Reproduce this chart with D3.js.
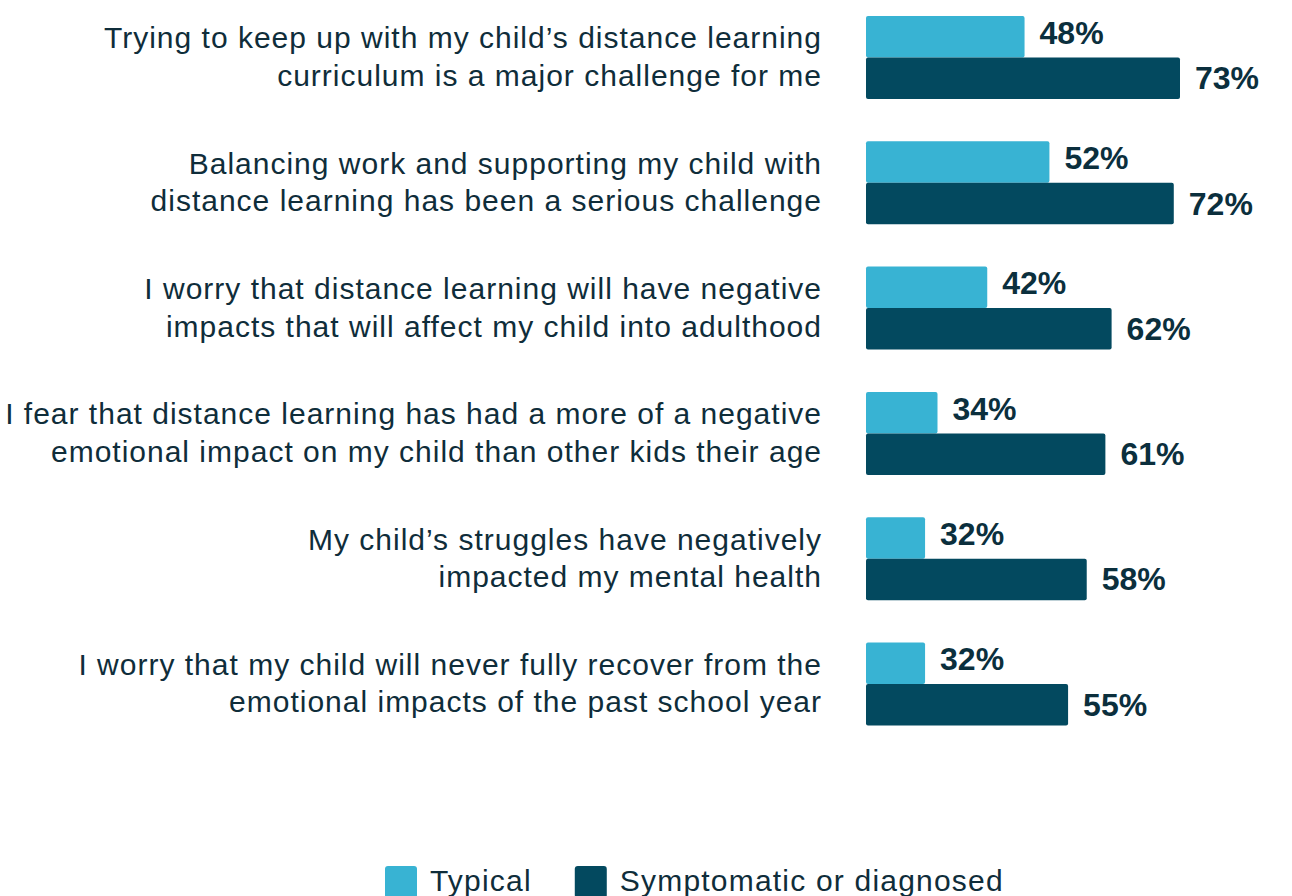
<!DOCTYPE html>
<html>
<head>
<meta charset="utf-8">
<script src="https://cdn.jsdelivr.net/npm/d3@7"></script>
<style>
  body { margin: 0; background: #fff; }
  svg { display: block; font-family: "Liberation Sans", Arial, sans-serif; }
</style>
</head>
<body>
<div id="chart"></div>
<script>

// statements, each split over two lines as in the original
const statements = [
    ["Trying to keep up with my child\u2019s distance learning", "curriculum is a major challenge for me"],
    ["Balancing work and supporting my child with", "distance learning has been a serious challenge"],
    ["I worry that distance learning will have negative", "impacts that will affect my child into adulthood"],
    ["I fear that distance learning has had a more of a negative", "emotional impact on my child than other kids their age"],
    ["My child\u2019s struggles have negatively", "impacted my mental health"],
    ["I worry that my child will never fully recover from the", "emotional impacts of the past school year"]
];

const seriesNames = ["Typical", "Symptomatic or diagnosed"];
const typicalValues = [48, 52, 42, 34, 32, 32];
const symptomaticValues = [73, 72, 62, 61, 58, 55];

const colors = {"Typical": "#38b3d3", "Symptomatic or diagnosed": "#03495f"};

let width = 1292, height = 896;

let svg = d3.select("#chart").append("svg")
    .attr("width", width)
    .attr("height", height);

// build rows from the arrays
let rows = statements.map((s, i) => ({
    key: i,
    lines: s,
    values: [
        {series: seriesNames[0], value: typicalValues[i]},
        {series: seriesNames[1], value: symptomaticValues[i]}
    ]
}));

// scales
let x = d3.scaleLinear()
    .domain([22.5, 73])
    .range([866, 1180]);

let y = d3.scaleBand()
    .domain(rows.map(d => d.key))
    .range([16, 725.5])
    .paddingInner(0.3376)
    .paddingOuter(0);

let ySub = d3.scaleBand()
    .domain(seriesNames)
    .range([0, y.bandwidth()]);

let groups = svg.selectAll(".row")
    .data(rows)
    .enter()
    .append("g")
    .attr("class", "row")
    .attr("transform", d => "translate(0," + y(d.key) + ")");

// bars
groups.selectAll("rect")
    .data(d => d.values)
    .enter()
    .append("rect")
    .attr("x", x.range()[0])
    .attr("y", d => ySub(d.series))
    .attr("width", d => x(d.value) - x.range()[0])
    .attr("height", ySub.bandwidth())
    .attr("rx", 2)
    .attr("fill", d => colors[d.series]);

// value labels
groups.selectAll(".val")
    .data(d => d.values)
    .enter()
    .append("text")
    .attr("class", "val")
    .attr("x", d => x(d.value) + 15)
    .attr("y", (d, i) => ySub(d.series) + ySub.bandwidth() / 2 + (i === 0 ? 7 : 11))
    .attr("font-size", 32)
    .attr("font-weight", "bold")
    .attr("fill", "#0b2f3d")
    .text(d => d.value + "%");

// statement labels
groups.append("text")
    .attr("text-anchor", "end")
    .attr("font-size", 30)
    .attr("letter-spacing", 1)
    .attr("fill", "#0f2d3a")
    .selectAll("tspan")
    .data(d => d.lines)
    .enter()
    .append("tspan")
    .attr("x", 822)
    .attr("y", (d, i) => y.bandwidth() / 2 - 9 + i * 37.5)
    .text(d => d);

// legend
let legend = svg.append("g")
    .attr("transform", "translate(385,866)");

let lx = 0;
seriesNames.forEach(name => {
    let item = legend.append("g").attr("transform", "translate(" + lx + ",0)");
    item.append("rect")
        .attr("width", 32)
        .attr("height", 32)
        .attr("rx", 3)
        .attr("fill", colors[name]);
    let t = item.append("text")
        .attr("x", 45)
        .attr("y", 25)
        .attr("font-size", 30)
        .attr("letter-spacing", 1.2)
        .attr("fill", "#0f2d3a")
        .text(name);
    lx += 45 + t.node().getComputedTextLength() + 43;
});

</script>
</body>
</html>
